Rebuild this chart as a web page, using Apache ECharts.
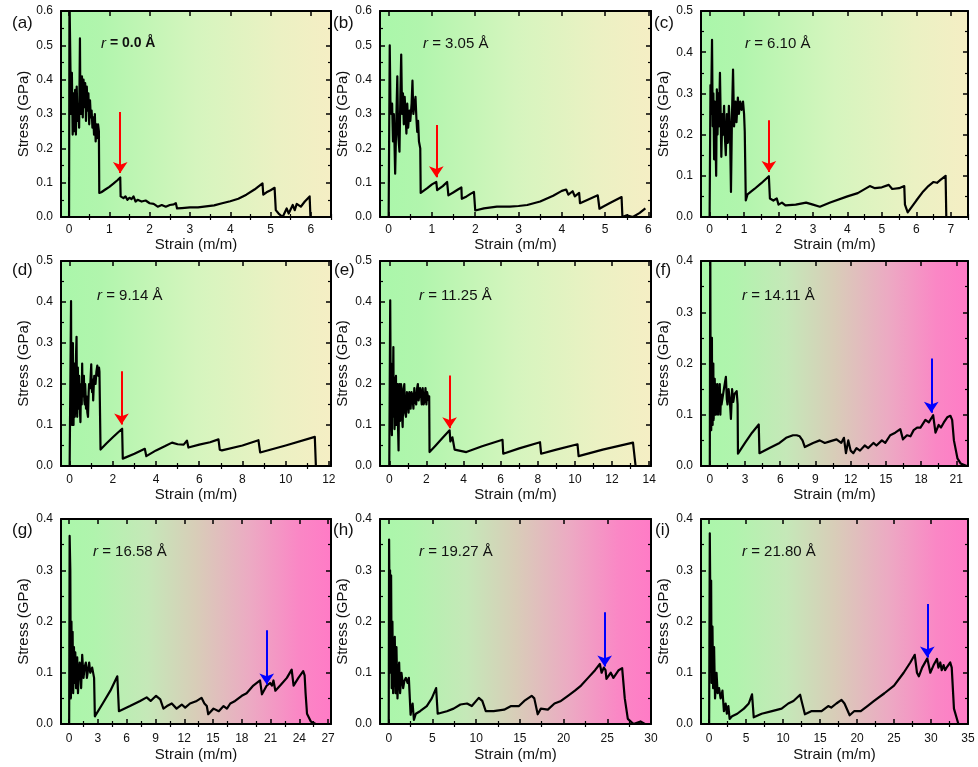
<!DOCTYPE html>
<html>
<head>
<meta charset="utf-8">
<script src="https://cdn.jsdelivr.net/npm/echarts@6/dist/echarts.min.js"></script>
<style>
  html, body { margin: 0; padding: 0; background: #fff; }
  #chart { width: 978px; height: 767px; }
</style>
</head>
<body>
<div id="chart"></div>
<script>
var FONT = '"Liberation Sans", Arial, Helvetica, sans-serif';

// ---- data ----
var panelNames = ['(a)', '(b)', '(c)', '(d)', '(e)', '(f)', '(g)', '(h)', '(i)'];
var radiusLabels = ['0.0', '3.05', '6.10', '9.14', '11.25', '14.11', '16.58', '19.27', '21.80'];

var strainA = [0, 0.01, 0.03, 0.05, 0.07, 0.09, 0.11, 0.13, 0.15, 0.17, 0.19, 0.21, 0.23, 0.25, 0.27, 0.28, 0.3, 0.32, 0.34, 0.36, 0.38, 0.4, 0.42, 0.44, 0.46, 0.48, 0.5, 0.52, 0.54, 0.56, 0.58, 0.6, 0.62, 0.64, 0.66, 0.68, 0.7, 0.72, 0.74, 0.75, 0.8, 0.9, 1.0, 1.1, 1.2, 1.27, 1.28, 1.35, 1.4, 1.45, 1.5, 1.55, 1.6, 1.65, 1.7, 1.8, 1.9, 2.0, 2.1, 2.2, 2.3, 2.4, 2.5, 2.6, 2.65, 2.68, 2.8, 3.0, 3.2, 3.4, 3.6, 3.8, 4.0, 4.2, 4.4, 4.6, 4.8, 4.82, 4.9, 5.0, 5.1, 5.13, 5.2, 5.3, 5.4, 5.45, 5.55, 5.6, 5.65, 5.75, 5.85, 5.97, 5.99, 6.1, 6.5];
var stressA = [0, 0.65, 0.47, 0.30, 0.42, 0.24, 0.36, 0.25, 0.37, 0.24, 0.38, 0.28, 0.33, 0.26, 0.52, 0.35, 0.30, 0.41, 0.29, 0.40, 0.32, 0.39, 0.28, 0.38, 0.31, 0.36, 0.27, 0.34, 0.29, 0.31, 0.26, 0.29, 0.24, 0.30, 0.22, 0.27, 0.23, 0.27, 0.25, 0.07, 0.072, 0.08, 0.088, 0.097, 0.107, 0.115, 0.06, 0.055, 0.06, 0.05, 0.056, 0.052, 0.06, 0.045, 0.05, 0.045, 0.048, 0.04, 0.038, 0.03, 0.035, 0.03, 0.035, 0.037, 0.04, 0.025, 0.026, 0.028, 0.028, 0.031, 0.034, 0.04, 0.046, 0.053, 0.065, 0.08, 0.098, 0.065, 0.072, 0.078, 0.085, 0.02, 0.01, 0.0, 0.025, 0.01, 0.035, 0.02, 0.038, 0.03, 0.045, 0.06, 0.0, 0.0, 0.0];

var strainB = [0, 0.02, 0.025, 0.04, 0.06, 0.08, 0.1, 0.12, 0.15, 0.18, 0.2, 0.22, 0.25, 0.27, 0.29, 0.31, 0.33, 0.35, 0.37, 0.39, 0.41, 0.43, 0.45, 0.48, 0.5, 0.53, 0.55, 0.57, 0.6, 0.62, 0.64, 0.66, 0.68, 0.7, 0.73, 0.74, 0.9, 1.0, 1.1, 1.12, 1.25, 1.35, 1.38, 1.5, 1.6, 1.68, 1.69, 1.8, 1.9, 1.97, 2.0, 2.2, 2.5, 2.8, 3.0, 3.2, 3.5, 3.8, 4.0, 4.1, 4.15, 4.25, 4.3, 4.4, 4.42, 4.6, 4.83, 4.87, 4.95, 5.1, 5.38, 5.4, 5.5, 5.64, 5.8, 5.93];
var stressB = [0, 0, 0.5, 0.34, 0.3, 0.33, 0.22, 0.3, 0.126, 0.3, 0.41, 0.24, 0.19, 0.35, 0.473, 0.3, 0.36, 0.27, 0.35, 0.3, 0.243, 0.33, 0.26, 0.31, 0.28, 0.33, 0.397, 0.3, 0.33, 0.35, 0.29, 0.248, 0.28, 0.22, 0.2, 0.07, 0.085, 0.095, 0.102, 0.078, 0.09, 0.102, 0.063, 0.072, 0.08, 0.086, 0.053, 0.06, 0.068, 0.073, 0.019, 0.025, 0.03, 0.03, 0.032, 0.035, 0.045, 0.062, 0.076, 0.08, 0.065, 0.075, 0.06, 0.07, 0.04, 0.05, 0.063, 0.024, 0.03, 0.04, 0.058, 0.0, 0.005, 0.0, 0.012, 0.025];

var strainC = [0, 0.02, 0.025, 0.04, 0.07, 0.09, 0.11, 0.13, 0.15, 0.17, 0.19, 0.21, 0.23, 0.25, 0.27, 0.3, 0.32, 0.34, 0.37, 0.39, 0.42, 0.44, 0.47, 0.5, 0.53, 0.56, 0.59, 0.62, 0.65, 0.68, 0.71, 0.75, 0.78, 0.82, 0.85, 0.89, 0.93, 0.97, 1.0, 1.02, 1.05, 1.1, 1.3, 1.5, 1.72, 1.75, 1.85, 1.95, 2.0, 2.1, 2.2, 2.5, 2.8, 3.0, 3.2, 3.5, 4.0, 4.3, 4.65, 4.8, 5.0, 5.2, 5.3, 5.5, 5.65, 5.67, 5.75, 5.8, 6.0, 6.2, 6.35, 6.5, 6.6, 6.7, 6.85, 6.87, 7.5];
var stressC = [0, 0, 0.32, 0.25, 0.43, 0.22, 0.3, 0.14, 0.28, 0.2, 0.1, 0.31, 0.2, 0.3, 0.22, 0.35, 0.25, 0.146, 0.25, 0.2, 0.27, 0.2, 0.15, 0.25, 0.18, 0.27, 0.22, 0.061, 0.25, 0.358, 0.22, 0.28, 0.23, 0.29, 0.25, 0.28, 0.26, 0.28, 0.25, 0.207, 0.04, 0.055, 0.068, 0.082, 0.099, 0.045, 0.04, 0.045, 0.03, 0.035, 0.028, 0.03, 0.035, 0.03, 0.025, 0.035, 0.05, 0.058, 0.075, 0.07, 0.072, 0.078, 0.068, 0.07, 0.075, 0.03, 0.011, 0.015, 0.04, 0.062, 0.075, 0.085, 0.083, 0.09, 0.1, 0.0, 0.0];

var strainD = [0, 0.06, 0.065, 0.08, 0.09, 0.11, 0.12, 0.14, 0.15, 0.17, 0.18, 0.2, 0.22, 0.24, 0.26, 0.28, 0.3, 0.32, 0.34, 0.35, 0.37, 0.38, 0.4, 0.42, 0.44, 0.46, 0.48, 0.5, 0.52, 0.54, 0.56, 0.58, 0.6, 0.62, 0.64, 0.66, 0.68, 0.7, 0.72, 0.74, 0.76, 0.78, 0.82, 0.85, 0.88, 0.9, 0.95, 1.0, 1.02, 1.04, 1.07, 1.09, 1.12, 1.14, 1.17, 1.2, 1.24, 1.28, 1.31, 1.33, 1.36, 1.38, 1.43, 1.7, 2.0, 2.2, 2.43, 2.46, 3.0, 3.48, 3.55, 4.0, 4.4, 4.74, 5.0, 5.28, 5.43, 5.5, 6.0, 6.5, 6.89, 6.95, 7.05, 8.0, 8.74, 8.82, 10.0, 11.35, 11.4, 12.1];
var stressD = [0, 0, 0.402, 0.15, 0.2, 0.1, 0.25, 0.1, 0.3, 0.12, 0.1, 0.22, 0.25, 0.12, 0.15, 0.22, 0.28, 0.315, 0.15, 0.12, 0.2, 0.24, 0.14, 0.16, 0.22, 0.22, 0.13, 0.107, 0.18, 0.2, 0.15, 0.25, 0.17, 0.18, 0.21, 0.22, 0.16, 0.15, 0.2, 0.2, 0.14, 0.17, 0.13, 0.12, 0.18, 0.2, 0.19, 0.248, 0.2, 0.18, 0.21, 0.16, 0.2, 0.22, 0.21, 0.2, 0.23, 0.245, 0.23, 0.22, 0.24, 0.23, 0.04, 0.055, 0.07, 0.08, 0.091, 0.018, 0.03, 0.042, 0.024, 0.038, 0.048, 0.057, 0.053, 0.052, 0.062, 0.045, 0.052, 0.058, 0.065, 0.04, 0.038, 0.05, 0.063, 0.033, 0.05, 0.071, 0.0, 0.0];

var strainE = [0, 0.04, 0.05, 0.08, 0.1, 0.12, 0.14, 0.16, 0.18, 0.2, 0.22, 0.24, 0.26, 0.28, 0.31, 0.33, 0.36, 0.38, 0.4, 0.42, 0.45, 0.47, 0.5, 0.52, 0.55, 0.58, 0.6, 0.63, 0.66, 0.69, 0.72, 0.76, 0.81, 0.85, 0.9, 0.95, 1.0, 1.04, 1.08, 1.15, 1.2, 1.25, 1.3, 1.35, 1.4, 1.45, 1.5, 1.54, 1.58, 1.62, 1.66, 1.7, 1.75, 1.8, 1.85, 1.9, 1.95, 2.0, 2.04, 2.08, 2.12, 2.15, 2.17, 2.5, 2.9, 3.25, 3.29, 3.4, 3.52, 4.15, 5.0, 6.1, 6.14, 7.0, 8.12, 8.18, 9.0, 10.14, 10.2, 11.5, 13.13, 13.27, 14.1];
var stressE = [0, 0, 0.404, 0.15, 0.25, 0.1, 0.075, 0.22, 0.12, 0.2, 0.29, 0.12, 0.2, 0.09, 0.12, 0.21, 0.22, 0.1, 0.13, 0.19, 0.2, 0.1, 0.038, 0.15, 0.2, 0.11, 0.13, 0.2, 0.19, 0.12, 0.095, 0.18, 0.2, 0.13, 0.12, 0.18, 0.17, 0.13, 0.18, 0.14, 0.18, 0.17, 0.14, 0.19, 0.16, 0.15, 0.19, 0.2, 0.16, 0.16, 0.19, 0.18, 0.15, 0.19, 0.15, 0.16, 0.19, 0.15, 0.18, 0.18, 0.16, 0.17, 0.034, 0.05, 0.07, 0.087, 0.06, 0.07, 0.04, 0.034, 0.048, 0.064, 0.03, 0.043, 0.058, 0.03, 0.04, 0.053, 0.024, 0.04, 0.057, 0.0, 0.0];

var strainF = [0, 0.03, 0.04, 0.06, 0.08, 0.1, 0.12, 0.14, 0.16, 0.18, 0.2, 0.22, 0.24, 0.26, 0.28, 0.3, 0.33, 0.36, 0.39, 0.42, 0.45, 0.48, 0.52, 0.56, 0.6, 0.65, 0.7, 0.75, 0.8, 0.85, 0.9, 0.95, 1.0, 1.09, 1.2, 1.37, 1.45, 1.51, 1.6, 1.7, 1.8, 1.9, 2.0, 2.1, 2.29, 2.37, 2.4, 3.0, 3.6, 4.17, 4.23, 5.09, 5.94, 6.5, 7.09, 7.4, 7.66, 7.9, 8.1, 8.8, 9.37, 9.8, 10.23, 10.8, 11.2, 11.43, 11.6, 11.8, 12.0, 12.23, 12.5, 12.8, 13.2, 13.5, 13.94, 14.2, 14.66, 14.95, 15.37, 15.8, 16.23, 16.46, 16.8, 17.1, 17.37, 17.66, 17.95, 18.37, 18.66, 19.03, 19.23, 19.5, 19.7, 19.94, 20.23, 20.5, 20.65, 20.8, 21.1, 21.37, 21.9];
var stressF = [0, 0, 0.45, 0.25, 0.08, 0.22, 0.07, 0.18, 0.09, 0.25, 0.1, 0.2, 0.08, 0.17, 0.1, 0.2, 0.09, 0.16, 0.1, 0.17, 0.11, 0.16, 0.1, 0.15, 0.11, 0.16, 0.1, 0.15, 0.11, 0.16, 0.1, 0.14, 0.12, 0.12, 0.15, 0.174, 0.13, 0.12, 0.15, 0.13, 0.092, 0.15, 0.125, 0.14, 0.146, 0.12, 0.024, 0.045, 0.065, 0.081, 0.025, 0.035, 0.045, 0.055, 0.06, 0.06, 0.058, 0.05, 0.037, 0.045, 0.05, 0.045, 0.048, 0.052, 0.045, 0.055, 0.025, 0.05, 0.03, 0.025, 0.035, 0.03, 0.04, 0.035, 0.045, 0.04, 0.05, 0.045, 0.06, 0.065, 0.072, 0.052, 0.06, 0.058, 0.07, 0.075, 0.075, 0.09, 0.085, 0.099, 0.065, 0.08, 0.075, 0.085, 0.095, 0.098, 0.09, 0.05, 0.015, 0.005, 0.0];

var strainG = [0, 0.05, 0.12, 0.18, 0.24, 0.3, 0.36, 0.42, 0.5, 0.56, 0.64, 0.72, 0.84, 0.92, 1.0, 1.1, 1.25, 1.36, 1.5, 1.6, 1.74, 1.85, 2.0, 2.09, 2.2, 2.4, 2.6, 2.68, 3.5, 4.3, 5.02, 5.19, 6.34, 7.4, 8.08, 8.5, 9.06, 9.5, 9.83, 10.2, 10.7, 11.2, 11.74, 12.1, 12.6, 13.3, 13.8, 14.1, 14.35, 14.5, 15.05, 15.6, 16.1, 16.45, 16.8, 17.3, 18.0, 18.5, 19.2, 19.9, 20.1, 20.6, 20.95, 21.15, 21.3, 21.5, 22.0, 22.7, 23.2, 23.4, 23.9, 24.4, 24.55, 24.65, 24.8, 25.2, 25.7, 27.3];
var stressG = [0, 0.367, 0.3, 0.05, 0.2, 0.07, 0.18, 0.06, 0.15, 0.08, 0.14, 0.07, 0.13, 0.06, 0.1, 0.12, 0.07, 0.135, 0.09, 0.11, 0.12, 0.09, 0.11, 0.12, 0.1, 0.11, 0.09, 0.015, 0.04, 0.065, 0.093, 0.025, 0.035, 0.045, 0.052, 0.045, 0.055, 0.048, 0.03, 0.035, 0.04, 0.03, 0.038, 0.032, 0.04, 0.045, 0.051, 0.04, 0.035, 0.019, 0.03, 0.025, 0.035, 0.03, 0.04, 0.045, 0.055, 0.06, 0.075, 0.085, 0.058, 0.075, 0.08, 0.075, 0.085, 0.065, 0.075, 0.09, 0.106, 0.075, 0.09, 0.103, 0.095, 0.06, 0.02, 0.005, 0.0, 0.0];

var strainH = [0, 0.04, 0.1, 0.15, 0.19, 0.27, 0.34, 0.42, 0.5, 0.6, 0.69, 0.78, 0.88, 1.0, 1.1, 1.19, 1.3, 1.46, 1.65, 1.8, 1.96, 2.15, 2.3, 2.42, 2.5, 2.6, 2.73, 2.88, 3.1, 3.58, 4.35, 4.92, 5.42, 5.6, 6.65, 7.42, 8.2, 8.96, 9.5, 10.3, 10.7, 11.1, 12.0, 13.2, 14.0, 14.9, 15.5, 16.35, 16.65, 17.04, 17.4, 18.2, 18.96, 19.7, 20.5, 21.3, 22.0, 22.8, 23.6, 24.15, 24.35, 24.6, 24.8, 24.9, 25.4, 25.7, 26.3, 26.7, 27.0, 27.35, 28.0, 28.8, 29.3];
var stressH = [0, 0.36, 0.2, 0.3, 0.1, 0.29, 0.07, 0.2, 0.06, 0.15, 0.17, 0.06, 0.15, 0.05, 0.1, 0.12, 0.06, 0.1, 0.07, 0.085, 0.09, 0.08, 0.09, 0.09, 0.018, 0.03, 0.04, 0.008, 0.02, 0.025, 0.035, 0.05, 0.07, 0.02, 0.025, 0.03, 0.038, 0.04, 0.035, 0.051, 0.045, 0.025, 0.025, 0.028, 0.035, 0.035, 0.045, 0.055, 0.05, 0.019, 0.03, 0.028, 0.04, 0.045, 0.055, 0.065, 0.075, 0.09, 0.105, 0.117, 0.1, 0.11, 0.105, 0.088, 0.1, 0.09, 0.105, 0.109, 0.05, 0.01, 0.0, 0.005, 0.0];

var strainI = [0, 0.09, 0.18, 0.27, 0.33, 0.45, 0.54, 0.67, 0.8, 1.0, 1.15, 1.34, 1.55, 1.8, 2.0, 2.23, 2.4, 2.6, 2.77, 3.1, 3.8, 4.7, 5.36, 5.8, 6.03, 7.1, 8.5, 9.8, 10.7, 11.4, 12.3, 12.5, 12.95, 13.8, 15.2, 16.1, 16.5, 17.2, 17.9, 18.3, 19.0, 19.6, 20.5, 21.4, 22.3, 23.7, 25.0, 26.3, 27.2, 27.8, 28.1, 28.35, 28.8, 29.5, 29.9, 30.35, 30.8, 31.0, 31.25, 31.45, 31.7, 31.9, 32.1, 32.6, 32.8, 33.1, 33.7, 34.4];
var stressI = [0, 0.372, 0.2, 0.28, 0.08, 0.19, 0.07, 0.15, 0.05, 0.1, 0.06, 0.07, 0.05, 0.065, 0.025, 0.04, 0.02, 0.035, 0.01, 0.015, 0.02, 0.03, 0.04, 0.058, 0.013, 0.02, 0.025, 0.03, 0.04, 0.045, 0.057, 0.045, 0.019, 0.025, 0.025, 0.035, 0.032, 0.04, 0.047, 0.04, 0.017, 0.025, 0.025, 0.035, 0.045, 0.06, 0.075, 0.1, 0.12, 0.135, 0.1, 0.093, 0.11, 0.128, 0.1, 0.115, 0.127, 0.11, 0.12, 0.105, 0.115, 0.105, 0.11, 0.12, 0.11, 0.03, 0.0, 0.0];

// tick labels of each strain axis
var xTicksA = [0, 1, 2, 3, 4, 5, 6];
var xTicksB = [0, 1, 2, 3, 4, 5, 6];
var xTicksC = [0, 1, 2, 3, 4, 5, 6, 7];
var xTicksD = [0, 2, 4, 6, 8, 10, 12];
var xTicksE = [0, 2, 4, 6, 8, 10, 12, 14];
var xTicksF = [0, 3, 6, 9, 12, 15, 18, 21];
var xTicksG = [0, 3, 6, 9, 12, 15, 18, 21, 24, 27];
var xTicksH = [0, 5, 10, 15, 20, 25, 30];
var xTicksI = [0, 5, 10, 15, 20, 25, 30, 35];

var xMins = [-0.2, -0.2, -0.25, -0.4, -0.5, -0.75, -0.85, -1.0, -1.1];
var xMaxs = [6.5, 6.06, 7.5, 12.1, 14.1, 22, 27.3, 30, 35];
var yMaxs = [0.6, 0.6, 0.5, 0.5, 0.5, 0.4, 0.4, 0.4, 0.4];

// arrows: strain position, stress at tail, stress at head
var arrowStrain = [1.27, 1.1, 1.72, 2.4, 3.25, 18.87, 20.6, 24.7, 29.5];
var arrowFrom = [0.306, 0.268, 0.235, 0.231, 0.221, 0.21, 0.183, 0.218, 0.234];
var arrowTo = [0.128, 0.116, 0.109, 0.101, 0.092, 0.104, 0.077, 0.112, 0.13];
var arrowColors = ['#ff0000', '#ff0000', '#ff0000', '#ff0000', '#ff0000', '#0000ff', '#0000ff', '#0000ff', '#0000ff'];

var strains = [strainA, strainB, strainC, strainD, strainE, strainF, strainG, strainH, strainI];
var stresses = [stressA, stressB, stressC, stressD, stressE, stressF, stressG, stressH, stressI];
var xTicks = [xTicksA, xTicksB, xTicksC, xTicksD, xTicksE, xTicksF, xTicksG, xTicksH, xTicksI];

// ---- layout ----
var gridLeft = [61, 380, 701];
var gridWidth = [270, 271, 267];
var gridTop = [11, 261, 519];
var gridHeight = [206, 205, 205];
var labelMargin = [7, 8, 9];
var xNameGap = [18.5, 17.5, 23.5];
var panelLabelPos = [[12, 25], [333, 25], [654, 25], [12, 272], [334, 272], [655, 272], [12, 532], [333, 532], [655, 532]];
var radiusPos = [[101, 45], [423, 45], [745, 45], [97, 297], [419, 297], [742, 297], [93, 553], [419, 553], [742, 553]];

var greenYellow = [
  { offset: 0, color: '#aaf7aa' },
  { offset: 0.15, color: '#b1f5ad' },
  { offset: 0.5, color: '#d5f5be' },
  { offset: 0.8, color: '#ebf1c3' },
  { offset: 1, color: '#f5eec4' }
];
var greenPink = [
  { offset: 0, color: '#aaf7aa' },
  { offset: 0.12, color: '#b0f4ad' },
  { offset: 0.32, color: '#c5e8b8' },
  { offset: 0.5, color: '#d8cdb8' },
  { offset: 0.7, color: '#ecaac3' },
  { offset: 0.88, color: '#fa87c5' },
  { offset: 1, color: '#ff7bc6' }
];

function minorValues(ticks, min, max) {
  var step = ticks[1] - ticks[0];
  var out = [];
  for (var v = ticks[0] - step / 2; v <= max; v += step) {
    if (v >= min) out.push(v);
  }
  return out;
}

var grids = [], xAxes = [], yAxes = [], series = [], graphics = [];
var textColor = '#111';
var frame = { show: true, onZero: false, lineStyle: { color: '#000', width: 2 } };

for (var i = 0; i < 9; i++) {
  var row = Math.floor(i / 3), col = i % 3;
  var min = xMins[i], max = xMaxs[i];
  var minors = minorValues(xTicks[i], min, max);

  grids.push({
    left: gridLeft[col], top: gridTop[row], width: gridWidth[col], height: gridHeight[row],
    show: true, borderWidth: 0,
    backgroundColor: {
      type: 'linear', x: 0, y: 0, x2: 1, y2: 0,
      colorStops: i < 5 ? greenYellow : greenPink
    }
  });

  var xBase = xAxes.length;
  // bottom, with labels and major ticks
  xAxes.push({
    type: 'value', gridIndex: i, min: min, max: max, position: 'bottom',
    axisLine: frame,
    axisTick: { inside: true, length: 5, customValues: xTicks[i], lineStyle: { color: '#000', width: 1.5 } },
    axisLabel: { customValues: xTicks[i], margin: labelMargin[row], fontSize: 12, color: textColor, fontFamily: FONT },
    splitLine: { show: false },
    name: 'Strain (m/m)', nameLocation: 'middle', nameGap: xNameGap[row],
    nameTextStyle: { fontSize: 15, color: textColor, fontFamily: FONT }
  });
  // bottom minor ticks
  xAxes.push({
    type: 'value', gridIndex: i, min: min, max: max, position: 'bottom',
    axisLine: { show: false },
    axisTick: { inside: true, length: 3, customValues: minors, lineStyle: { color: '#000', width: 1.2 } },
    axisLabel: { show: false }, splitLine: { show: false }
  });
  // top frame, major ticks
  xAxes.push({
    type: 'value', gridIndex: i, min: min, max: max, position: 'top',
    axisLine: frame,
    axisTick: { inside: true, length: 5, customValues: xTicks[i], lineStyle: { color: '#000', width: 1.5 } },
    axisLabel: { show: false }, splitLine: { show: false }
  });
  // top minor ticks
  xAxes.push({
    type: 'value', gridIndex: i, min: min, max: max, position: 'top',
    axisLine: { show: false },
    axisTick: { inside: true, length: 3, customValues: minors, lineStyle: { color: '#000', width: 1.2 } },
    axisLabel: { show: false }, splitLine: { show: false }
  });

  var yBase = yAxes.length;
  yAxes.push({
    type: 'value', gridIndex: i, min: 0, max: yMaxs[i], interval: 0.1, position: 'left',
    axisLine: frame,
    axisTick: { inside: true, length: 5, lineStyle: { color: '#000', width: 1.5 } },
    minorTick: { show: true, splitNumber: 2, length: 3, lineStyle: { color: '#000', width: 1.2 } },
    axisLabel: {
      margin: 8, fontSize: 12, color: textColor, fontFamily: FONT,
      formatter: function (v) { return v.toFixed(1); }
    },
    splitLine: { show: false },
    name: 'Stress (GPa)', nameLocation: 'middle', nameGap: 30,
    nameTextStyle: { fontSize: 15, color: textColor, fontFamily: FONT }
  });
  yAxes.push({
    type: 'value', gridIndex: i, min: 0, max: yMaxs[i], interval: 0.1, position: 'right',
    axisLine: frame,
    axisTick: { inside: true, length: 5, lineStyle: { color: '#000', width: 1.5 } },
    minorTick: { show: true, splitNumber: 2, length: 3, lineStyle: { color: '#000', width: 1.2 } },
    axisLabel: { show: false }, splitLine: { show: false }
  });

  var pts = strains[i].map(function (x, k) { return [x, stresses[i][k]]; });
  series.push({
    type: 'line', xAxisIndex: xBase, yAxisIndex: yBase, data: pts,
    showSymbol: false, symbol: 'none', clip: true, animation: false, silent: true,
    lineStyle: { color: '#000', width: 2.2, join: 'round' },
    markLine: {
      silent: true, animation: false,
      symbol: ['none', 'arrow'], symbolSize: 11,
      label: { show: false },
      emphasis: { disabled: true },
      lineStyle: { color: arrowColors[i], width: 2, type: 'solid' },
      data: [[
        { coord: [arrowStrain[i], arrowFrom[i]] },
        { coord: [arrowStrain[i], arrowTo[i]] }
      ]]
    }
  });

  graphics.push({
    type: 'text', left: panelLabelPos[i][0], top: panelLabelPos[i][1] - 10,
    style: { text: panelNames[i], font: '17px ' + FONT, fill: textColor }
  });
  var bold = i === 0;
  graphics.push({
    type: 'text', left: radiusPos[i][0], top: radiusPos[i][1] - 9,
    style: {
      text: '{r|r}{v| = ' + radiusLabels[i] + ' Å}',
      rich: {
        r: { fontStyle: 'italic', fontSize: 15, fontFamily: FONT, fill: textColor, color: textColor },
        v: { fontSize: bold ? 14 : 15, fontWeight: bold ? 'bold' : 'normal', fontFamily: FONT, fill: textColor, color: textColor }
      }
    }
  });
}

var chart = echarts.init(document.getElementById('chart'));
chart.setOption({
  animation: false,
  backgroundColor: '#ffffff',
  textStyle: { fontFamily: FONT },
  grid: grids,
  xAxis: xAxes,
  yAxis: yAxes,
  series: series,
  graphic: graphics
});
</script>
</body>
</html>
